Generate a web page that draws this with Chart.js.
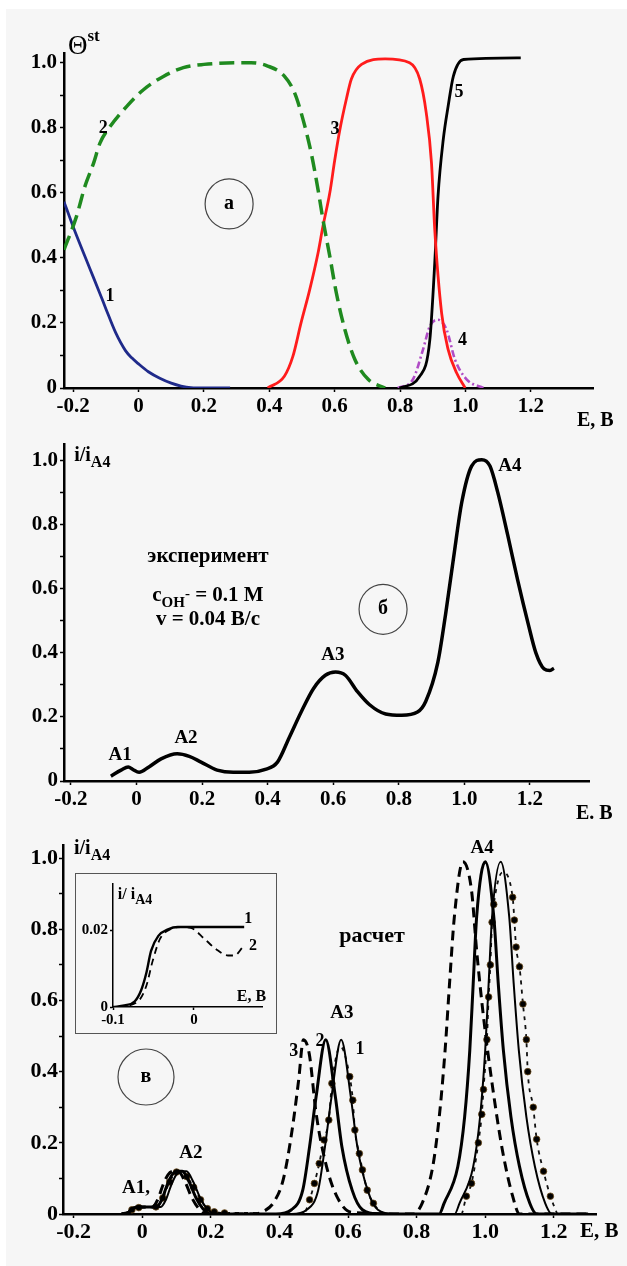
<!DOCTYPE html>
<html lang="ru">
<head>
<meta charset="UTF-8">
<title>Θst, i/iA4 – E</title>
<script src="https://cdn.jsdelivr.net/npm/chart.js"></script>
<style>
  html, body { margin: 0; padding: 0; background: #fff; }
  #fig { position: relative; width: 627px; height: 1266px; overflow: hidden; }
  #bg { position: absolute; left: 6px; top: 9px; right: 0; bottom: 0; background: #f6f6f6; }
  canvas { position: absolute; left: 0; }
  #boxC { position: absolute; left: 75px; top: 873px; width: 202px; height: 161px;
          box-sizing: border-box; border: 1.5px solid #555; background: #f6f6f6; }
</style>
</head>
<body>
<div id="fig">
  <div id="bg"></div>
  <canvas id="chartA" width="627" height="432" style="top:0"></canvas>
  <canvas id="chartB" width="627" height="400" style="top:430px"></canvas>
  <canvas id="chartC" width="627" height="436" style="top:830px"></canvas>
  <div id="boxC"></div>
  <canvas id="chartIn" width="202" height="161" style="left:75px;top:873px"></canvas>
</div>

<script>
// ---- панель а: Θst(E) ----
const aE1 = [-0.228, -0.2, -0.15, -0.118, -0.1, -0.07, -0.04, -0.02, 0, 0.03, 0.065, 0.1, 0.13, 0.16, 0.2, 0.28];
const aT1 = [0.573, 0.496, 0.37, 0.29, 0.244, 0.17, 0.115, 0.092, 0.074, 0.05, 0.03, 0.015, 0.006, 0.001, 0, 0];
const aE2 = [-0.228, -0.19, -0.164, -0.138, -0.118, -0.087, -0.036, 0.015, 0.076, 0.137, 0.2, 0.3, 0.344, 0.395, 0.446, 0.477, 0.503, 0.528, 0.549, 0.564, 0.585, 0.605, 0.631, 0.662, 0.703, 0.754];
const aT2 = [0.425, 0.527, 0.62, 0.69, 0.753, 0.804, 0.866, 0.917, 0.958, 0.985, 0.995, 1.0, 1.0, 0.99, 0.959, 0.908, 0.826, 0.723, 0.61, 0.518, 0.405, 0.292, 0.18, 0.087, 0.026, 0];
const aE3 = [0.395, 0.446, 0.472, 0.497, 0.523, 0.549, 0.564, 0.585, 0.6, 0.615, 0.636, 0.651, 0.682, 0.754, 0.829, 0.86, 0.88, 0.896, 0.906, 0.927, 0.947, 0.973, 0.999];
const aT3 = [0, 0.036, 0.097, 0.2, 0.3, 0.415, 0.497, 0.6, 0.7, 0.79, 0.89, 0.95, 0.995, 1.012, 1.0, 0.95, 0.846, 0.692, 0.487, 0.23, 0.118, 0.046, 0];
const aE4 = [0.793, 0.839, 0.87, 0.891, 0.916, 0.942, 0.968, 1.004, 1.056];
const aT4 = [0, 0.026, 0.118, 0.19, 0.21, 0.18, 0.087, 0.026, 0];
const aE5 = [0.798, 0.86, 0.891, 0.906, 0.916, 0.932, 0.947, 0.963, 0.994, 1.169];
const aT5 = [0, 0.036, 0.149, 0.385, 0.59, 0.764, 0.867, 0.959, 1.01, 1.015];

// ---- панель б: эксперимент ----
const bE = [-0.078, -0.047, -0.025, -0.011, 0.008, 0.038, 0.075, 0.124, 0.161, 0.197, 0.246, 0.295, 0.344, 0.393, 0.43, 0.466, 0.503, 0.54, 0.576, 0.607, 0.637, 0.674, 0.711, 0.76, 0.809, 0.857, 0.882, 0.919, 0.943, 0.967, 0.992, 1.022, 1.053, 1.078, 1.102, 1.132, 1.163, 1.194, 1.218, 1.243, 1.261, 1.273];
const bI = [0.015, 0.034, 0.044, 0.036, 0.027, 0.044, 0.069, 0.085, 0.077, 0.059, 0.034, 0.027, 0.027, 0.036, 0.059, 0.136, 0.217, 0.289, 0.33, 0.34, 0.33, 0.279, 0.238, 0.209, 0.205, 0.215, 0.248, 0.37, 0.523, 0.697, 0.87, 0.983, 1.003, 0.983, 0.9, 0.768, 0.625, 0.493, 0.4, 0.35, 0.345, 0.352];

// ---- панель в: расчет ----
const cE3 = [-0.06, -0.04, -0.025, -0.01, 0.03, 0.045, 0.06, 0.075, 0.09, 0.105, 0.125, 0.145, 0.165, 0.19, 0.32, 0.355, 0.385, 0.412, 0.437, 0.456, 0.47, 0.487, 0.507, 0.535, 0.567, 0.61, 0.79, 0.816, 0.847, 0.866, 0.883, 0.896, 0.91, 0.935, 0.96, 0.975, 0.995, 1.02, 1.05, 1.08, 1.1, 1.3];
const cI3 = [0, 0.005, 0.017, 0.02, 0.02, 0.04, 0.08, 0.11, 0.12, 0.12, 0.09, 0.045, 0.015, 0, 0, 0.008, 0.035, 0.1, 0.236, 0.376, 0.49, 0.45, 0.283, 0.142, 0.05, 0.005, 0, 0.03, 0.133, 0.273, 0.46, 0.648, 0.835, 0.99, 0.91, 0.74, 0.554, 0.367, 0.18, 0.05, 0, 0];
const cE2 = [-0.06, -0.04, -0.025, -0.01, 0.042, 0.057, 0.072, 0.087, 0.102, 0.117, 0.137, 0.157, 0.177, 0.2, 0.39, 0.435, 0.468, 0.488, 0.507, 0.535, 0.563, 0.582, 0.612, 0.642, 0.69, 0.85, 0.866, 0.88, 0.92, 0.94, 0.955, 0.965, 0.975, 1.0, 1.025, 1.038, 1.053, 1.075, 1.1, 1.13, 1.15, 1.3];
const cI2 = [0, 0.005, 0.017, 0.02, 0.02, 0.04, 0.08, 0.11, 0.12, 0.12, 0.09, 0.045, 0.015, 0, 0, 0.012, 0.067, 0.19, 0.33, 0.49, 0.33, 0.19, 0.067, 0.012, 0, 0, 0, 0.03, 0.133, 0.273, 0.46, 0.648, 0.835, 0.99, 0.835, 0.648, 0.46, 0.273, 0.133, 0.03, 0, 0];
const cE1 = [-0.06, -0.04, -0.025, -0.01, 0.054, 0.069, 0.084, 0.099, 0.114, 0.129, 0.149, 0.169, 0.189, 0.212, 0.435, 0.48, 0.513, 0.533, 0.552, 0.58, 0.608, 0.627, 0.657, 0.687, 0.735, 0.895, 0.911, 0.925, 0.965, 0.985, 1.0, 1.01, 1.02, 1.045, 1.07, 1.083, 1.098, 1.12, 1.145, 1.175, 1.195, 1.3];
const cI1 = [0, 0.005, 0.017, 0.02, 0.02, 0.04, 0.08, 0.11, 0.12, 0.12, 0.09, 0.045, 0.015, 0, 0, 0.012, 0.067, 0.19, 0.33, 0.49, 0.33, 0.19, 0.067, 0.012, 0, 0, 0, 0.03, 0.133, 0.273, 0.46, 0.648, 0.835, 0.99, 0.835, 0.648, 0.46, 0.273, 0.133, 0.03, 0, 0];
const cED = [-0.05, -0.03, -0.01, 0.04, 0.06, 0.08, 0.1, 0.115, 0.13, 0.15, 0.17, 0.19, 0.21, 0.24, 0.28, 0.32, 0.36, 0.47, 0.488, 0.502, 0.516, 0.53, 0.544, 0.553, 0.578, 0.605, 0.614, 0.62, 0.633, 0.642, 0.656, 0.674, 0.712, 0.93, 0.945, 0.96, 0.98, 0.99, 0.995, 1.005, 1.01, 1.015, 1.02, 1.025, 1.05, 1.08, 1.085, 1.09, 1.1, 1.11, 1.12, 1.124, 1.14, 1.15, 1.17, 1.19, 1.21];
const cID = [0, 0.012, 0.018, 0.02, 0.045, 0.09, 0.118, 0.12, 0.105, 0.075, 0.04, 0.015, 0.006, 0.003, 0.003, 0.003, 0, 0, 0.04, 0.086, 0.142, 0.208, 0.264, 0.367, 0.47, 0.386, 0.32, 0.236, 0.17, 0.124, 0.067, 0.03, 0, 0, 0.05, 0.086, 0.2, 0.28, 0.35, 0.49, 0.61, 0.7, 0.82, 0.87, 0.96, 0.89, 0.826, 0.75, 0.695, 0.59, 0.49, 0.4, 0.3, 0.21, 0.12, 0.05, 0];

// ---- вставка ----
const inE1 = [-0.1, -0.086, -0.073, -0.065, -0.059, -0.053, -0.044, -0.032, -0.02, -0.004, 0.062];
const inI1 = [0, 0.0004, 0.0015, 0.0045, 0.0087, 0.0146, 0.0185, 0.0202, 0.0208, 0.0208, 0.0208];
const inE2 = [-0.094, -0.069, -0.059, -0.051, -0.042, -0.032, -0.016, -0.004, 0.013, 0.027, 0.042, 0.05, 0.06];
const inI2 = [0, 0.0015, 0.0054, 0.012, 0.0177, 0.0199, 0.0208, 0.0206, 0.0177, 0.0151, 0.0134, 0.0134, 0.0155];

const FONT = '"Liberation Serif", "Times New Roman", serif';
Chart.defaults.font.family = FONT;
Chart.defaults.font.weight = 'bold';
Chart.defaults.color = '#000';

function pts(xs, ys) { return xs.map((x, i) => ({ x: x, y: ys[i] })); }

function line(xs, ys, color, width, dash) {
  return { data: pts(xs, ys), borderColor: color, borderWidth: width, borderDash: dash || [],
           fill: false, pointRadius: 0 };
}

function yFmt(v) { const r = Math.round(v * 10); return r % 2 ? '' : (r === 0 ? '0' : (r / 10).toFixed(1)); }
function xFmt(v) { const r = Math.round(v * 10); return r === 0 ? '0' : (r / 10).toFixed(1); }

// text labels, placed in data coordinates
function notes(items) {
  return {
    id: 'notes',
    afterDraw(chart) {
      const ctx = chart.ctx, sx = chart.scales.x, sy = chart.scales.y;
      ctx.save();
      ctx.fillStyle = '#000';
      ctx.textBaseline = 'middle';
      ctx.textAlign = 'left';
      items.forEach(n => {
        const px = sx.getPixelForValue(n.x), py = sy.getPixelForValue(n.y);
        if (n.ring) {
          ctx.beginPath();
          ctx.ellipse(px, py, n.ring[0], n.ring[1], 0, 0, Math.PI * 2);
          ctx.lineWidth = 1.2;
          ctx.strokeStyle = '#444';
          ctx.stroke();
        }
        let w = 0;
        n.parts.forEach(p => { ctx.font = (p[3] || 'bold') + ' ' + p[1] + 'px ' + FONT; w += ctx.measureText(p[0]).width; });
        let x = n.left ? px : px - w / 2;
        n.parts.forEach(p => {
          ctx.font = (p[3] || 'bold') + ' ' + p[1] + 'px ' + FONT;
          ctx.fillText(p[0], x, py + (p[2] || 0));
          x += ctx.measureText(p[0]).width;
        });
      });
      ctx.restore();
    }
  };
}

function make(id, cfg) {
  const ax = cfg.axis;
  return new Chart(document.getElementById(id), {
    type: 'line',
    data: { datasets: cfg.datasets },
    options: {
      responsive: false,
      animation: false,
      devicePixelRatio: 1,
      layout: { padding: cfg.pad },
      plugins: { legend: { display: false }, tooltip: { enabled: false } },
      elements: { line: { cubicInterpolationMode: 'monotone' } },
      scales: {
        x: {
          type: 'linear', min: ax.xmin, max: ax.xmax,
          afterFit: s => { s.height = ax.xh; },
          border: { color: '#000', width: ax.bw },
          grid: { drawOnChartArea: false, tickLength: ax.tl, tickWidth: 1.5, tickColor: '#000' },
          ticks: { stepSize: ax.xstep, includeBounds: false, autoSkip: false, maxRotation: 0,
                   padding: ax.xpad, font: { size: ax.fs }, callback: ax.xfmt || xFmt }
        },
        y: {
          type: 'linear', min: 0, max: ax.ymax,
          afterFit: s => { s.width = ax.yw; },
          border: { color: '#000', width: ax.bw },
          grid: { drawOnChartArea: false, tickLength: ax.tl, tickWidth: 1.5, tickColor: '#000' },
          ticks: { stepSize: ax.ystep, includeBounds: false, autoSkip: false,
                   padding: ax.ypad, font: { size: ax.fs }, callback: ax.yfmt || yFmt }
        }
      }
    },
    plugins: [notes(cfg.notes)]
  });
}

// ---- а ----
make('chartA', {
  pad: { top: 53, right: 34, left: 0, bottom: 0 },
  axis: { xmin: -0.228, xmax: 1.39, ymax: 1.03, xstep: 0.2, ystep: 0.1, xh: 44, yw: 64,
          bw: 2.5, tl: 4, fs: 21, xpad: 2, ypad: 3 },
  datasets: [
    line(aE2, aT2, '#1f8a1f', 3.5, [15, 7]),
    line(aE1, aT1, '#1f2a8a', 2.8),
    line(aE3, aT3, '#ff1c1c', 2.8),
    line(aE5, aT5, '#000000', 2.8),
    line(aE4, aT4, '#b04cc6', 2.6, [7, 3, 2, 3])
  ],
  notes: [
    { x: -0.216, y: 1.049, left: true, parts: [['Θ', 27, 0, 'normal'], ['st', 17, -10]] },
    { x: -0.087, y: 0.281, parts: [['1', 18]] },
    { x: -0.108, y: 0.799, parts: [['2', 18]] },
    { x: 0.601, y: 0.796, parts: [['3', 18]] },
    { x: 0.98, y: 0.908, parts: [['5', 18]] },
    { x: 0.991, y: 0.148, parts: [['4', 18]] },
    { x: 0.277, y: 0.566, ring: [24, 25], parts: [['а', 20]] },
    { x: 1.341, y: -0.1015, left: true, parts: [['E, В', 20]] }
  ]
});

// ---- б ----
make('chartB', {
  pad: { top: 8, right: 38, left: 0, bottom: 0 },
  axis: { xmin: -0.221, xmax: 1.38, ymax: 1.05, xstep: 0.2, ystep: 0.1, xh: 49, yw: 64,
          bw: 2.5, tl: 4, fs: 21, xpad: 2, ypad: 2 },
  datasets: [ line(bE, bI, '#000000', 3.5) ],
  notes: [
    { x: -0.19, y: 1.016, left: true, parts: [['i/i', 20], ['A4', 16, 7]] },
    { x: -0.05, y: 0.08, parts: [['A1', 19]] },
    { x: 0.151, y: 0.133, parts: [['A2', 19]] },
    { x: 0.599, y: 0.392, parts: [['A3', 19]] },
    { x: 1.139, y: 0.983, parts: [['A4', 19]] },
    { x: 0.218, y: 0.701, parts: [['эксперимент', 21]] },
    { x: 0.218, y: 0.579, parts: [['c', 21], ['OH', 15, 8], ['-', 15, -1], [' = 0.1 M', 21]] },
    { x: 0.218, y: 0.503, parts: [['v = 0.04 В/с', 21]] },
    { x: 0.752, y: 0.536, ring: [24, 25], parts: [['б', 20]] },
    { x: 1.34, y: -0.104, left: true, parts: [['E. В', 20]] }
  ]
});

// ---- в ----
function dotR(c) {
  const d = c.dataset.data, i = c.dataIndex, y = d[i].y;
  if (y === 0) return 0;
  const p = d[i - 1], n = d[i + 1];
  if (p && n && y >= p.y && y >= n.y) return 0;
  return 3.3;
}
const dotted = line(cED, cID, '#111', 1.8, [4, 5]);
dotted.pointRadius = dotR;
dotted.pointBackgroundColor = '#000';
dotted.pointBorderColor = '#6b4a1a';
dotted.pointBorderWidth = 0.8;

make('chartC', {
  pad: { top: 15, right: 31, left: 0, bottom: 0 },
  axis: { xmin: -0.231, xmax: 1.323, ymax: 1.037, xstep: 0.2, ystep: 0.1, xh: 52, yw: 63,
          bw: 2.5, tl: 4, fs: 22, xpad: 1, ypad: 1 },
  datasets: [
    line(cE3, cI3, '#000000', 3, [10, 6]),
    line(cE2, cI2, '#000000', 3),
    line(cE1, cI1, '#000000', 2),
    dotted
  ],
  notes: [
    { x: -0.199, y: 1.026, left: true, parts: [['i/i', 20], ['A4', 16, 7]] },
    { x: 0.991, y: 1.029, parts: [['A4', 19]] },
    { x: 0.67, y: 0.779, parts: [['расчет', 22]] },
    { x: 0.582, y: 0.565, parts: [['A3', 19]] },
    { x: 0.442, y: 0.456, parts: [['3', 18]] },
    { x: 0.518, y: 0.484, parts: [['2', 18]] },
    { x: 0.635, y: 0.464, parts: [['1', 18]] },
    { x: 0.011, y: 0.385, ring: [28, 28], parts: [['в', 20]] },
    { x: 0.142, y: 0.171, parts: [['A2', 19]] },
    { x: -0.018, y: 0.073, parts: [['A1,', 19]] },
    { x: 1.276, y: -0.05, left: true, parts: [['E, В', 21]] }
  ]
});

// ---- вставка ----
make('chartIn', {
  pad: { top: 9, right: 15, left: 0, bottom: 0 },
  axis: { xmin: -0.1, xmax: 0.084, ymax: 0.032, xstep: 0.1, ystep: 0.02, xh: 27, yw: 38,
          bw: 1.5, tl: 3, fs: 15, xpad: 1, ypad: 2,
          yfmt: v => { const r = Math.round(v * 100); return r === 0 ? '0' : (r / 100).toFixed(2); } },
  datasets: [
    line(inE1, inI1, '#000000', 2.4),
    line(inE2, inI2, '#000000', 1.8, [7, 5])
  ],
  notes: [
    { x: -0.094, y: 0.0292, left: true, parts: [['i/ i', 16], ['A4', 14, 6]] },
    { x: 0.067, y: 0.023, parts: [['1', 16]] },
    { x: 0.073, y: 0.0159, parts: [['2', 16]] },
    { x: 0.071, y: 0.0026, parts: [['E, В', 16]] }
  ]
});
</script>
</body>
</html>
